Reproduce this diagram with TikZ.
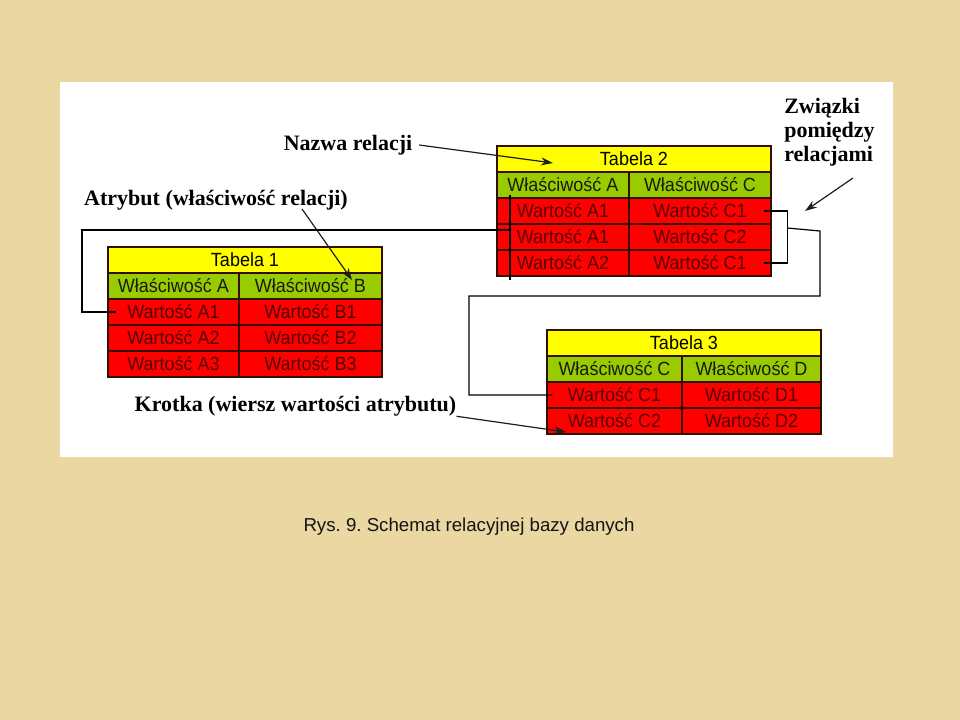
\documentclass[tikz,border=0pt]{standalone}
\usepackage{fontspec}
\usepackage{graphicx}
\setmainfont{Liberation Serif}
\newfontfamily\tabfont{Liberation Sans}
\frenchspacing
\usetikzlibrary{arrows.meta}
\newcommand\tall[1]{\scalebox{1}[1.06]{#1}}

\begin{document}
\begin{tikzpicture}[x=0.75pt,y=0.75pt,yscale=-1,xscale=1,
  cell/.style={draw={rgb, 255:red, 50; green, 15; blue, 0 }, line width=1pt, inner sep=0pt, minimum height=19.5pt, font=\tabfont\fontsize{13.5}{16}\selectfont},
  titlecell/.style={cell, fill={rgb, 255:red, 255; green, 255; blue, 0 }, text=black},
  headcell/.style={cell, fill={rgb, 255:red, 153; green, 204; blue, 0 }, text={rgb, 255:red, 25; green, 25; blue, 15 }},
  valcell/.style={cell, fill={rgb, 255:red, 255; green, 0; blue, 0 }, text={rgb, 255:red, 85; green, 0; blue, 0 }},
  note/.style={font=\bfseries\fontsize{16.5}{18}\selectfont, inner sep=0pt},
  pointer/.style={-{Stealth[length=9pt,width=6pt]}, line width=0.9pt, draw={rgb, 255:red, 30; green, 30; blue, 30 }},
  link/.style={line width=0.9pt, draw=black}
]
%Background
\fill [fill={rgb, 255:red, 234; green, 215; blue, 162 }] (0,0) rectangle (960,720) ;
\useasboundingbox (0,0) rectangle (960,720) ;
%Shape: White panel
\fill [white] (60,82) rectangle (893,457) ;

%Table 1
\node [titlecell, minimum width=205.5pt] (t1title) at (245,260) {\tall{Tabela 1}};
\node [headcell, minimum width=98.25pt] (t1hA) at (173.5,286) {\tall{Właściwość A}};
\node [headcell, minimum width=107.25pt] (t1hB) at (310.5,286) {\tall{Właściwość B}};
\node [valcell, minimum width=98.25pt] (t1a1) at (173.5,312) {\tall{Wartość A1}};
\node [valcell, minimum width=107.25pt] (t1b1) at (310.5,312) {\tall{Wartość B1}};
\node [valcell, minimum width=98.25pt] (t1a2) at (173.5,338) {\tall{Wartość A2}};
\node [valcell, minimum width=107.25pt] (t1b2) at (310.5,338) {\tall{Wartość B2}};
\node [valcell, minimum width=98.25pt] (t1a3) at (173.5,364) {\tall{Wartość A3}};
\node [valcell, minimum width=107.25pt] (t1b3) at (310.5,364) {\tall{Wartość B3}};

%Table 2
\node [titlecell, minimum width=205.5pt] (t2title) at (634,159) {\tall{Tabela 2}};
\node [headcell, minimum width=99pt] (t2hA) at (563,185) {\tall{Właściwość A}};
\node [headcell, minimum width=106.5pt] (t2hC) at (700,185) {\tall{Właściwość C}};
\node [valcell, minimum width=99pt] (t2a1) at (563,211) {\tall{Wartość A1}};
\node [valcell, minimum width=106.5pt] (t2c1) at (700,211) {\tall{Wartość C1}};
\node [valcell, minimum width=99pt] (t2a2) at (563,237) {\tall{Wartość A1}};
\node [valcell, minimum width=106.5pt] (t2c2) at (700,237) {\tall{Wartość C2}};
\node [valcell, minimum width=99pt] (t2a3) at (563,263) {\tall{Wartość A2}};
\node [valcell, minimum width=106.5pt] (t2c3) at (700,263) {\tall{Wartość C1}};

%Table 3
\node [titlecell, minimum width=205.5pt] (t3title) at (684,343) {\tall{Tabela 3}};
\node [headcell, minimum width=101.25pt] (t3hC) at (614.5,369) {\tall{Właściwość C}};
\node [headcell, minimum width=104.25pt] (t3hD) at (751.5,369) {\tall{Właściwość D}};
\node [valcell, minimum width=101.25pt] (t3c1) at (614.5,395) {\tall{Wartość C1}};
\node [valcell, minimum width=104.25pt] (t3d1) at (751.5,395) {\tall{Wartość D1}};
\node [valcell, minimum width=101.25pt] (t3c2) at (614.5,421) {\tall{Wartość C2}};
\node [valcell, minimum width=104.25pt] (t3d2) at (751.5,421) {\tall{Wartość D2}};

%Labels
\node [note] (nazwa) at (348,145) {Nazwa relacji};
\node [note] (atrybut) at (216,200) {Atrybut (właściwość relacji)};
\node [note] (krotka) at (295.5,406) {Krotka (wiersz wartości atrybutu)};
\node [note, align=left, anchor=north west] (zwiazki) at (784,98) {Związki\\pomiędzy\\relacjami};
\node [font=\tabfont\fontsize{14}{17}\selectfont, text={rgb, 255:red, 20; green, 20; blue, 20 }] (caption) at (469,527) {Rys. 9. Schemat relacyjnej bazy danych};

%Free ends
\coordinate (nazwaTip) at (553,163) ;
\coordinate (atrybutTip) at (352,280) ;
\coordinate (krotkaTip) at (566,432) ;
\coordinate (zwTail) at (853,178) ;
\coordinate (zwTip) at (805,211) ;
\coordinate (t1bend) at (82,230) ;
\coordinate (t2tap) at (510,230) ;
\coordinate (t2markTop) at (510,195) ;
\coordinate (t2markBot) at (510,280) ;
\coordinate (brk) at (787,228) ;
\coordinate (r1) at (820,231) ;
\coordinate (r2) at (469,296) ;

%Pointers
\draw [pointer] ([xshift=5pt]nazwa.east) -- (nazwaTip) ;
\draw [pointer] ([xshift=64.5pt,yshift=-1pt]atrybut.south) -- (atrybutTip) ;
\draw [pointer] (krotka.south east) -- (krotkaTip) ;
\draw [pointer] (zwTail) -- (zwTip) ;

%Straight Lines: Tabela 1 -- Tabela 2
\draw [link] ([xshift=6.75pt]t1a1.west) -| (t1bend) -- (t2tap) ;
\draw [link] (t2markTop) -- (t2markBot) ;
%Straight Lines: bracket
\draw [link] ([xshift=-6pt]t2c1.east) -- ([xshift=12pt]t2c1.east) -- ([xshift=12pt]t2c3.east) -- ([xshift=-6pt]t2c3.east) ;
%Straight Lines: Tabela 2 -- Tabela 3
\draw [link] (brk) -- (r1) |- (r2) |- ([xshift=4.5pt]t3c1.west) ;

\end{tikzpicture}
\end{document}
